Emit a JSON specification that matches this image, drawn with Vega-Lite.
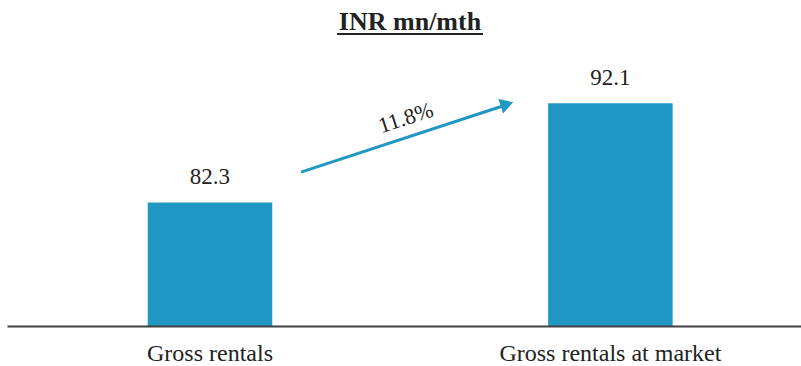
{
  "$schema": "https://vega.github.io/schema/vega-lite/v6.json",
  "autosize": "none",
  "width": 794,
  "height": 326,
  "padding": {"left": 7, "top": 0, "right": 0, "bottom": 40},
  "background": "white",
  "config": {"view": {"stroke": null}, "font": "Liberation Serif"},
  "datasets": {
    "bars": [
      {"category": "Gross rentals", "value": 82.3},
      {"category": "Gross rentals at market", "value": 92.1}
    ],
    "arrow": [
      {"x": 294, "y": 85.3, "x2": 498, "y2": 91.9}
    ],
    "head": [
      {"x": 500, "y": 92.0}
    ],
    "growth": [
      {"x": 401, "y": 90.0, "label": "11.8%"}
    ],
    "title": [
      {"x": 403, "y": 99.35, "label": "INR mn/mth"}
    ],
    "underline": [
      {"x": 330, "x2": 476, "y": 98.95}
    ]
  },
  "layer": [
    {
      "data": {"name": "bars"},
      "layer": [
        {
          "mark": {"type": "bar", "color": "#2197C4"},
          "encoding": {
            "x": {
              "field": "category", "type": "nominal", "sort": null,
              "scale": {"paddingInner": 0.689, "paddingOuter": 0.336, "align": 0.523},
              "axis": {
                "title": null, "labelAngle": 0, "ticks": false, "tickSize": 0,
                "labelPadding": 34, "labelBaseline": "alphabetic", "labelLimit": 0,
                "labelFont": "Liberation Serif", "labelFontSize": 24, "labelColor": "#222222",
                "domainColor": "#404040", "domainWidth": 2, "grid": false, "zindex": 1
              }
            },
            "y": {
              "field": "value", "type": "quantitative",
              "scale": {"domain": [70.1, 102.3], "zero": false, "nice": false},
              "axis": null
            },
            "y2": {"datum": 70.1}
          }
        },
        {
          "mark": {"type": "text", "dy": -18, "baseline": "alphabetic", "font": "Liberation Serif", "fontSize": 23, "color": "#222222"},
          "encoding": {
            "x": {"field": "category", "type": "nominal", "sort": null},
            "y": {"field": "value", "type": "quantitative"},
            "text": {"field": "value", "type": "quantitative", "format": ".1f"}
          }
        }
      ]
    },
    {
      "layer": [
        {
          "data": {"name": "arrow"},
          "mark": {"type": "rule", "color": "#2197C4", "strokeWidth": 3},
          "encoding": {
            "x": {"field": "x", "type": "quantitative", "scale": {"domain": [0, 794], "nice": false, "zero": false}, "axis": null},
            "x2": {"field": "x2"},
            "y": {"field": "y", "type": "quantitative"},
            "y2": {"field": "y2"}
          }
        },
        {
          "data": {"name": "head"},
          "mark": {"type": "point", "shape": "triangle-right", "filled": true, "color": "#2197C4", "opacity": 1, "size": 230, "angle": 342},
          "encoding": {
            "x": {"field": "x", "type": "quantitative"},
            "y": {"field": "y", "type": "quantitative"}
          }
        },
        {
          "data": {"name": "growth"},
          "mark": {"type": "text", "angle": 342, "font": "Liberation Serif", "fontSize": 22, "color": "#222222", "baseline": "alphabetic"},
          "encoding": {
            "x": {"field": "x", "type": "quantitative"},
            "y": {"field": "y", "type": "quantitative"},
            "text": {"field": "label"}
          }
        },
        {
          "data": {"name": "title"},
          "mark": {"type": "text", "font": "Liberation Serif", "fontSize": 26, "fontWeight": "bold", "color": "#222222", "baseline": "alphabetic"},
          "encoding": {
            "x": {"field": "x", "type": "quantitative"},
            "y": {"field": "y", "type": "quantitative"},
            "text": {"field": "label"}
          }
        },
        {
          "data": {"name": "underline"},
          "mark": {"type": "rule", "color": "#222222", "strokeWidth": 2},
          "encoding": {
            "x": {"field": "x", "type": "quantitative"},
            "x2": {"field": "x2"},
            "y": {"field": "y", "type": "quantitative"}
          }
        }
      ]
    }
  ],
  "resolve": {"scale": {"x": "independent"}}
}
